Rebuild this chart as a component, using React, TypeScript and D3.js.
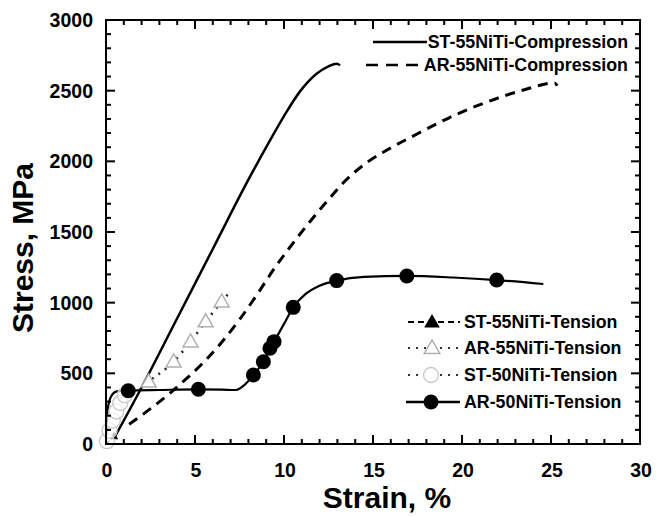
import React from "react";
import * as d3 from "d3";

// tick labels
const strainTicks = [0, 5, 10, 15, 20, 25, 30];
const stressTicks = [0, 500, 1000, 1500, 2000, 2500, 3000];

// ST-55NiTi-Compression (solid)
const st55CompStrain = [0.45, 2, 4, 6, 8, 9, 10, 10.9, 11.83, 12.5, 12.96, 13.15];
const st55CompStress = [40, 400, 890, 1380, 1870, 2100, 2320, 2495, 2620, 2672, 2690, 2680];

// AR-55NiTi-Compression (dashed)
const ar55CompStrain = [1.3, 2.5, 3.5, 4.5, 5.5, 6.5, 7.5, 8.5, 9.5, 10.5, 11.5, 12.5, 13.5, 14.7, 16, 17.5, 19.3, 21.4, 23.6, 25.2, 25.35];
const ar55CompStress = [140, 250, 350, 460, 580, 720, 880, 1060, 1250, 1420, 1580, 1730, 1870, 1995, 2095, 2195, 2310, 2420, 2510, 2555, 2535];

// ST-55NiTi-Tension (filled triangle, dashed)
const st55TenStrain = [0, 0.45];
const st55TenStress = [0, 55];

// AR-55NiTi-Tension (open triangles, dotted)
const ar55TenStrain = [1.9, 2.4, 3.8, 4.75, 5.6, 6.5, 6.97];
const ar55TenStress = [385, 440, 582, 724, 866, 1007, 1078];
const ar55TenMarkStrain = [2.4, 3.8, 4.75, 5.6, 6.5];
const ar55TenMarkStress = [440, 582, 724, 866, 1007];

// ST-50NiTi-Tension (open circles)
const st50TenStrain = [0.05, 0.2, 0.38, 0.58, 0.8, 1.05];
const st50TenStress = [20, 95, 165, 230, 290, 345];

// AR-50NiTi-Tension (filled circles, solid)
const ar50TenStrain = [0, 0.1, 0.3, 0.6, 1.25, 3, 5.19, 6.5, 7.3, 7.8, 8.28, 8.84, 9.21, 9.44, 10, 10.52, 11.2, 12, 12.96, 14.5, 16.9, 19.5, 21.95, 24.57];
const ar50TenStress = [0, 250, 340, 372, 377, 382, 387, 385, 382, 420, 488, 582, 677, 724, 850, 967, 1060, 1120, 1156, 1182, 1189, 1178, 1160, 1132];
const ar50TenMarkStrain = [1.25, 5.19, 8.28, 8.84, 9.21, 9.44, 10.52, 12.96, 16.9, 21.95];
const ar50TenMarkStress = [377, 387, 488, 582, 677, 724, 967, 1156, 1189, 1160];

const compressionLegend = ["ST-55NiTi-Compression", "AR-55NiTi-Compression"];
const tensionLegend = ["ST-55NiTi-Tension", "AR-55NiTi-Tension", "ST-50NiTi-Tension", "AR-50NiTi-Tension"];

const zip = (xs: number[], ys: number[]) => xs.map((v, i) => [v, ys[i]] as [number, number]);

export default function App() {
  const layout = { width: 662, height: 517, left: 106, right: 640, top: 20, bottom: 444 };
  const font = "'Liberation Sans', Arial, sans-serif";

  const x = d3.scaleLinear().domain([0, 30]).range([layout.left, layout.right]);
  const y = d3.scaleLinear().domain([0, 3000]).range([layout.bottom, layout.top]);

  const line = d3.line<[number, number]>()
    .x(d => x(d[0]))
    .y(d => y(d[1]))
    .curve(d3.curveMonotoneX);

  const minorX = d3.range(0, 31, 1);
  const minorY = d3.range(0, 3001, 100);

  const tri = (cx: number, cy: number, s: number) =>
    `M${cx},${cy - s * 0.62}L${cx + s * 0.6},${cy + s * 0.42}L${cx - s * 0.6},${cy + s * 0.42}Z`;

  const legY = [322, 348, 375, 402];

  return (
    <svg width={layout.width} height={layout.height}
      style={{ position: "absolute", left: 0, top: 0, background: "white" }}
      fontFamily={font} fontWeight="bold">
      {/* curves */}
      <path d={line(zip(ar55CompStrain, ar55CompStress)) || ""} fill="none" stroke="black" strokeWidth={3} strokeDasharray="10,7" />
      <path d={line(zip(st55CompStrain, st55CompStress)) || ""} fill="none" stroke="black" strokeWidth={2.5} />
      <path d={line(zip(ar55TenStrain, ar55TenStress)) || ""} fill="none" stroke="#222" strokeWidth={2.5} strokeDasharray="2,6" />
      <path d={line(zip(ar50TenStrain, ar50TenStress)) || ""} fill="none" stroke="black" strokeWidth={2.2} />
      <path d={line(zip(st55TenStrain, st55TenStress)) || ""} fill="none" stroke="black" strokeWidth={1.5} strokeDasharray="4,3" />
      {zip(st55TenStrain, st55TenStress).slice(1).map((d, i) => (
        <path key={i} d={tri(x(d[0]), y(d[1]), 7)} fill="black" />
      ))}
      {zip(st50TenStrain, st50TenStress).map((d, i) => (
        <circle key={i} cx={x(d[0])} cy={y(d[1])} r={7.5} fill="white" fillOpacity={0.7} stroke="#c8c8c8" strokeWidth={1.3} />
      ))}
      {zip(ar55TenMarkStrain, ar55TenMarkStress).map((d, i) => (
        <path key={i} d={tri(x(d[0]), y(d[1]), 12.5)} fill="white" stroke="#b0b0b0" strokeWidth={1.5} />
      ))}
      {zip(ar50TenMarkStrain, ar50TenMarkStress).map((d, i) => (
        <circle key={i} cx={x(d[0])} cy={y(d[1])} r={7.5} fill="black" />
      ))}

      {/* frame */}
      <rect x={layout.left} y={layout.top} width={layout.right - layout.left} height={layout.bottom - layout.top}
        fill="none" stroke="black" strokeWidth={2} />
      {minorX.map(v => {
        const len = v % 5 === 0 ? 9 : 5;
        return (
          <g key={v}>
            <line x1={x(v)} x2={x(v)} y1={layout.bottom} y2={layout.bottom - len} stroke="black" strokeWidth={2} />
            <line x1={x(v)} x2={x(v)} y1={layout.top} y2={layout.top + len} stroke="black" strokeWidth={2} />
          </g>
        );
      })}
      {minorY.map(v => {
        const len = v % 500 === 0 ? 9 : 5;
        return (
          <g key={v}>
            <line x1={layout.left} x2={layout.left + len} y1={y(v)} y2={y(v)} stroke="black" strokeWidth={2} />
            <line x1={layout.right} x2={layout.right - len} y1={y(v)} y2={y(v)} stroke="black" strokeWidth={2} />
          </g>
        );
      })}
      {strainTicks.map(v => (
        <text key={v} x={x(v) + 1} y={477} textAnchor="middle" fontSize={19.5}>{v}</text>
      ))}
      {stressTicks.map(v => (
        <text key={v} x={93} y={y(v) + 7} textAnchor="end" fontSize={19.5}>{v}</text>
      ))}
      <text x={387} y={508} textAnchor="middle" fontSize={30}>Strain, %</text>
      <text transform="translate(33,248) rotate(-90)" textAnchor="middle" fontSize={30}>Stress, MPa</text>

      {/* compression legend */}
      {compressionLegend.map((name, i) => (
        <text key={name} x={628} y={(i === 0 ? 42 : 65) + 6} textAnchor="end" fontSize={17.8}>{name}</text>
      ))}
      <line x1={373} x2={427} y1={42} y2={42} stroke="black" strokeWidth={2.5} />
      <line x1={366} x2={424} y1={65} y2={65} stroke="black" strokeWidth={2.5} strokeDasharray="12,8" />

      {/* tension legend */}
      {tensionLegend.map((name, i) => (
        <text key={name} x={464} y={legY[i] + 6} fontSize={17.8}>{name}</text>
      ))}
      <line x1={408} x2={460} y1={legY[0]} y2={legY[0]} stroke="black" strokeWidth={2} strokeDasharray="6,4" />
      <path d={tri(432, legY[0], 13)} fill="black" />
      <line x1={408} x2={460} y1={legY[1]} y2={legY[1]} stroke="#333" strokeWidth={2.2} strokeDasharray="2,6" />
      <path d={tri(432, legY[1], 13)} fill="white" stroke="#b0b0b0" strokeWidth={1.5} />
      <line x1={408} x2={460} y1={legY[2]} y2={legY[2]} stroke="#333" strokeWidth={2.2} strokeDasharray="2,6" />
      <circle cx={431} cy={legY[2]} r={7.5} fill="white" stroke="#c8c8c8" strokeWidth={1.3} />
      <line x1={406} x2={460} y1={legY[3]} y2={legY[3]} stroke="black" strokeWidth={2.5} />
      <circle cx={431} cy={legY[3]} r={7.5} fill="black" />
    </svg>
  );
}
